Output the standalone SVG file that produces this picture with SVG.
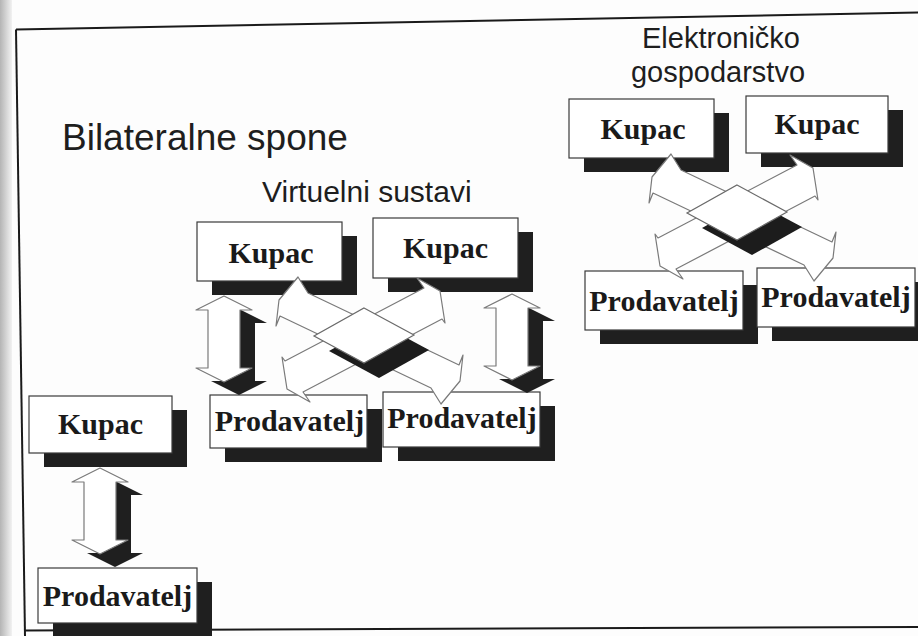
<svg xmlns="http://www.w3.org/2000/svg" xmlns:xlink="http://www.w3.org/1999/xlink" width="918" height="636" viewBox="0 0 918 636">
<defs>
<linearGradient id="edge" x1="0" x2="1" y1="0" y2="0"><stop offset="0" stop-color="#b4b4b4"/><stop offset="1" stop-color="#f2f2f2"/></linearGradient>
<polygon id="va" points="0,-43 28,-29 16,-29 16,29 28,29 0,43 -28,29 -16,29 -16,-29 -28,-29"/>
<polygon id="xa" points="671,154 681,170 832,242 836,232 833,258 814,281 804,265 653,193 649,203 652,177"/>
<polygon id="xb" points="790,155 813,168 818,200 815,196 676,269 683,279 660,266 655,234 658,238 797,165"/>
<polygon id="dm" points="737,185 787,212 737,240 687,213"/>
</defs>
<style>
.shadow{fill:#1f1f1f}
.box{fill:#ffffff;stroke:#3a3a3a;stroke-width:1.2}
.lbl{font-family:"Liberation Serif","Times New Roman",serif;font-weight:bold;font-size:30px;fill:#1a1a1a;text-anchor:middle}
.head{font-family:"Liberation Sans",Arial,sans-serif;fill:#1e1e1e}
.arr{fill:#ffffff;stroke:#7a7a7a;stroke-width:1.2;stroke-linejoin:round}
.arrs{fill:#1f1f1f;stroke:none}
.frame{stroke:#1a1a1a;stroke-width:2;fill:none}
.dmw{fill:#ffffff;stroke:#6a6a6a;stroke-width:1.2}
.dms{fill:#1c1c1c}
</style>
<rect width="918" height="636" fill="#fdfdfd"/>
<rect width="12" height="636" fill="url(#edge)"/>
<g id="frame">
<path class="frame" d="M16,29.5 L918,12.5"/>
<path class="frame" d="M16,29.5 L25,636"/>
<path class="frame" d="M25,630.5 L918,627"/>
</g>
<g id="titles">
<text class="head" x="62" y="150" font-size="37">Bilateralne spone</text>
<text class="head" x="262" y="202" font-size="30">Virtuelni sustavi</text>
<text class="head" x="721" y="48" font-size="29" text-anchor="middle">Elektroničko</text>
<text class="head" x="718" y="82" font-size="29" text-anchor="middle">gospodarstvo</text>
</g>
<g id="bil-kupac"><rect class="shadow" x="44" y="410" width="143" height="57"/><rect class="box" x="29" y="396" width="143" height="57"/><text class="lbl" x="100.5" y="434">Kupac</text></g>
<g id="bil-prodavatelj"><rect class="shadow" x="53" y="582" width="159" height="55"/><rect class="box" x="38" y="568" width="159" height="55"/><text class="lbl" x="117.5" y="606">Prodavatelj</text></g>
<g id="virt-kupac-1"><rect class="shadow" x="212" y="236" width="145" height="59"/><rect class="box" x="197" y="222" width="145" height="59"/><text class="lbl" x="271" y="263">Kupac</text></g>
<g id="virt-kupac-2"><rect class="shadow" x="388" y="232" width="145" height="60"/><rect class="box" x="373" y="218" width="145" height="60"/><text class="lbl" x="445.5" y="258">Kupac</text></g>
<g id="virt-prodavatelj-1"><rect class="shadow" x="225" y="409" width="157" height="53"/><rect class="box" x="210" y="395" width="157" height="53"/><text class="lbl" x="289.5" y="431">Prodavatelj</text></g>
<g id="virt-prodavatelj-2"><rect class="shadow" x="398" y="406" width="157" height="55"/><rect class="box" x="383" y="392" width="157" height="55"/><text class="lbl" x="462" y="428">Prodavatelj</text></g>
<g id="ecom-kupac-1"><rect class="shadow" x="584" y="113" width="145" height="59"/><rect class="box" x="569" y="99" width="145" height="59"/><text class="lbl" x="643" y="139">Kupac</text></g>
<g id="ecom-kupac-2"><rect class="shadow" x="761" y="110" width="142" height="57"/><rect class="box" x="746" y="96" width="142" height="57"/><text class="lbl" x="817" y="134">Kupac</text></g>
<g id="ecom-prodavatelj-1"><rect class="shadow" x="600" y="285" width="158" height="59"/><rect class="box" x="585" y="271" width="158" height="59"/><text class="lbl" x="664" y="311">Prodavatelj</text></g>
<g id="ecom-prodavatelj-2"><rect class="shadow" x="772" y="282" width="158" height="59"/><rect class="box" x="757" y="268" width="158" height="59"/><text class="lbl" x="836" y="307">Prodavatelj</text></g>
<g id="connectors">
<use xlink:href="#va" href="#va" class="arrs" transform="translate(115,524)"/>
<use xlink:href="#va" href="#va" class="arr" transform="translate(100,511)"/>
<use xlink:href="#va" href="#va" class="arrs" transform="translate(239,352)"/>
<use xlink:href="#va" href="#va" class="arr" transform="translate(224,339)"/>
<use xlink:href="#va" href="#va" class="arrs" transform="translate(527,350)"/>
<use xlink:href="#va" href="#va" class="arr" transform="translate(512,337)"/>
<use xlink:href="#xa" href="#xa" class="arr"/>
<use xlink:href="#xb" href="#xb" class="arr"/>
<use xlink:href="#xa" href="#xa" class="arr" transform="translate(-373,123)"/>
<use xlink:href="#xb" href="#xb" class="arr" transform="translate(-373,123)"/>
</g>
<g id="hub-ecom"><use xlink:href="#dm" href="#dm" class="dms" transform="translate(15,15)"/><use xlink:href="#dm" href="#dm" class="dmw"/></g>
<g id="hub-virt" transform="translate(-373,123)"><use xlink:href="#dm" href="#dm" class="dms" transform="translate(15,15)"/><use xlink:href="#dm" href="#dm" class="dmw"/></g>
</svg>
